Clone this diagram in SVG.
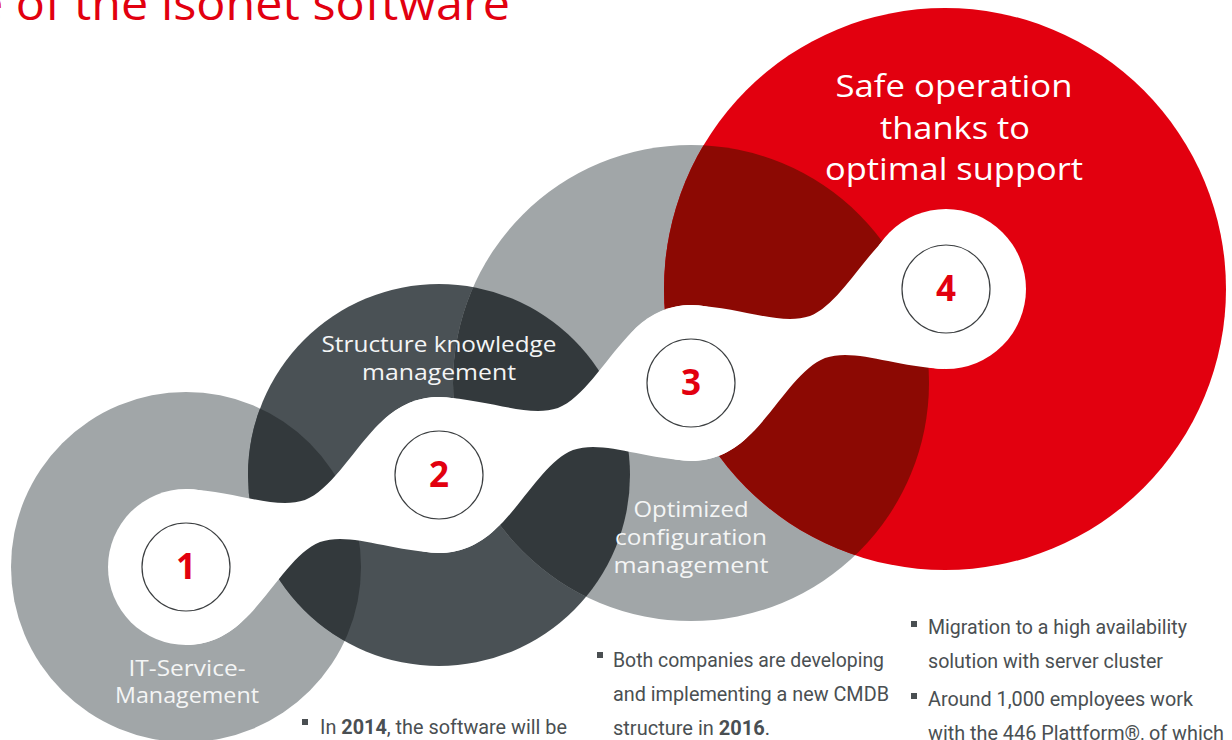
<svg xmlns="http://www.w3.org/2000/svg" xmlns:xlink="http://www.w3.org/1999/xlink" width="1232" height="740" viewBox="0 0 1232 740">
<style>
.lg{fill:#a1a6a8}
.dg{fill:#4a5155}
.ov{fill:#33393c}
.rd{fill:#e2000f}
.ovr{fill:#8c0903}
.wh{fill:#ffffff}
.ring{fill:#ffffff;stroke:#3c3f41;stroke-width:1.2}
.num{font-family:"Open Sans","Liberation Sans",sans-serif;font-weight:700;font-size:35px;fill:#e2000f;text-anchor:middle}
.lab{font-family:"Open Sans","Liberation Sans",sans-serif;font-weight:400;font-size:22px;fill:#f4f5f5;text-anchor:middle}
.lab4{font-family:"Open Sans","Liberation Sans",sans-serif;font-weight:400;font-size:31px;fill:#ffffff;text-anchor:middle}
.title{font-family:"Open Sans","Liberation Sans",sans-serif;font-weight:400;font-size:46px;fill:#e2000f}
.bt{font-family:Roboto,"Liberation Sans",sans-serif;font-weight:400;font-size:20px;fill:#4a4f52}
.bul{fill:#4a4f52}
</style>
<defs>
<clipPath id="clip1"><circle cx="186" cy="567" r="175"/></clipPath>
<clipPath id="clip2"><circle cx="439" cy="475" r="191"/></clipPath>
<clipPath id="clip3"><circle cx="691" cy="383" r="238"/></clipPath>
<path id="neck" d="M0,-78 C54,-75 89,-57 119,-67 C144,-77 164,-112 189,-139 C209,-160 229,-170 253,-170 L253,-14 C199,-17 164,-35 134,-25 C109,-15 89,20 64,47 C44,68 24,78 0,78 Z"/>
</defs>

<text class="title" x="-24" y="20" textLength="534" lengthAdjust="spacingAndGlyphs">e of the isonet software</text>

<g id="backdrop">
<circle class="lg" cx="186" cy="567" r="175"/>
<circle class="dg" cx="439" cy="475" r="191"/>
<circle class="lg" cx="691" cy="383" r="238"/>
<circle class="rd" cx="945" cy="289" r="281"/>
<circle class="ov" cx="439" cy="475" r="191" clip-path="url(#clip1)"/>
<circle class="ov" cx="691" cy="383" r="238" clip-path="url(#clip2)"/>
<circle class="ovr" cx="945" cy="289" r="281" clip-path="url(#clip3)"/>
</g>

<g id="connectors" class="wh">
<use xlink:href="#neck" href="#neck" x="186" y="567"/>
<use xlink:href="#neck" href="#neck" x="439" y="475"/>
<use xlink:href="#neck" href="#neck" x="691" y="383"/>
<circle cx="186" cy="567" r="78"/>
<circle cx="439" cy="475" r="78"/>
<circle cx="691" cy="383" r="78"/>
<circle cx="946" cy="289" r="80"/>
</g>

<g id="node-1">
<circle class="ring" cx="186" cy="567" r="44"/>
<text class="num" x="186" y="579">1</text>
<text class="lab" x="187" y="676" textLength="117" lengthAdjust="spacingAndGlyphs">IT-Service-</text>
<text class="lab" x="187" y="703" textLength="144" lengthAdjust="spacingAndGlyphs">Management</text>
</g>

<g id="node-2">
<circle class="ring" cx="439" cy="475" r="44"/>
<text class="num" x="439" y="487">2</text>
<text class="lab" x="439" y="352" textLength="235" lengthAdjust="spacingAndGlyphs">Structure knowledge</text>
<text class="lab" x="439" y="380" textLength="154" lengthAdjust="spacingAndGlyphs">management</text>
</g>

<g id="node-3">
<circle class="ring" cx="691" cy="383" r="44"/>
<text class="num" x="691" y="395">3</text>
<text class="lab" x="691" y="517" textLength="115" lengthAdjust="spacingAndGlyphs">Optimized</text>
<text class="lab" x="691" y="545" textLength="152" lengthAdjust="spacingAndGlyphs">configuration</text>
<text class="lab" x="691" y="573" textLength="155" lengthAdjust="spacingAndGlyphs">management</text>
</g>

<g id="node-4">
<circle class="ring" cx="946" cy="289" r="44"/>
<text class="num" x="946" y="301">4</text>
<text class="lab4" x="954" y="97" textLength="237" lengthAdjust="spacingAndGlyphs">Safe operation</text>
<text class="lab4" x="955" y="139" textLength="150" lengthAdjust="spacingAndGlyphs">thanks to</text>
<text class="lab4" x="954" y="180" textLength="258" lengthAdjust="spacingAndGlyphs">optimal support</text>
</g>

<g id="notes-1">
<rect class="bul" x="302" y="719" width="6" height="6"/>
<text class="bt" x="320" y="734" textLength="247" lengthAdjust="spacingAndGlyphs">In <tspan font-weight="700">2014</tspan>, the software will be</text>
</g>

<g id="notes-3">
<rect class="bul" x="597" y="652" width="6" height="6"/>
<text class="bt" x="613" y="667" textLength="271" lengthAdjust="spacingAndGlyphs">Both companies are developing</text>
<text class="bt" x="613" y="701" textLength="276" lengthAdjust="spacingAndGlyphs">and implementing a new CMDB</text>
<text class="bt" x="613" y="735" textLength="157" lengthAdjust="spacingAndGlyphs">structure in <tspan font-weight="700">2016</tspan>.</text>
</g>

<g id="notes-4">
<rect class="bul" x="911" y="621" width="6" height="6"/>
<text class="bt" x="928" y="634" textLength="259" lengthAdjust="spacingAndGlyphs">Migration to a high availability</text>
<text class="bt" x="928" y="668" textLength="235" lengthAdjust="spacingAndGlyphs">solution with server cluster</text>
<rect class="bul" x="911" y="693" width="6" height="6"/>
<text class="bt" x="928" y="706" textLength="265" lengthAdjust="spacingAndGlyphs">Around 1,000 employees work</text>
<text class="bt" x="928" y="740" textLength="296" lengthAdjust="spacingAndGlyphs">with the 446 Plattform®, of which</text>
</g>
</svg>
